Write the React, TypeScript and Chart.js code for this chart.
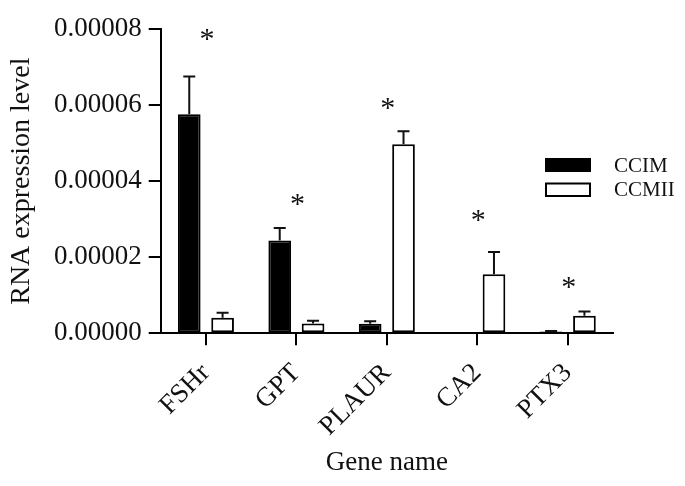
import React, { useEffect, useRef } from "react";
import { Chart, registerables } from "chart.js";

Chart.register(...registerables);

const categories = ["FSHr", "GPT", "PLAUR", "CA2", "PTX3"];
const seriesNames = ["CCIM", "CCMII"];
const ccimValues = [5.76e-5, 2.44e-5, 0.25e-5, 0.015e-5, 0.05e-5];
const ccimErrors = [0.99e-5, 0.33e-5, 0.07e-5, 0, 0.01e-5];
const ccmiiValues = [0.41e-5, 0.26e-5, 4.97e-5, 1.55e-5, 0.46e-5];
const ccmiiErrors = [0.13e-5, 0.07e-5, 0.34e-5, 0.59e-5, 0.11e-5];
const starLevels = [7.79e-5, 3.46e-5, 5.98e-5, 3.04e-5, 1.27e-5];
const yMin = 0;
const yMax = 0.00008;
const yStep = 0.00002;

const FONT = '"Liberation Serif", "Times New Roman", serif';
const INK = "#111";

const errorBarPlugin = {
  id: "errorBars",
  afterDatasetsDraw(chart: any) {
    const ctx = chart.ctx;
    const yScale = chart.scales.y;
    const errs = [ccimErrors, ccmiiErrors];
    const vals = [ccimValues, ccmiiValues];
    ctx.save();
    ctx.strokeStyle = INK;
    ctx.lineWidth = 2;
    for (let d = 0; d < 2; d++) {
      const meta = chart.getDatasetMeta(d);
      meta.data.forEach((bar: any, j: number) => {
        const e = errs[d][j];
        if (!e) return;
        const yTop = yScale.getPixelForValue(vals[d][j] + e);
        const yBar = yScale.getPixelForValue(vals[d][j]);
        ctx.beginPath();
        ctx.moveTo(bar.x, yBar);
        ctx.lineTo(bar.x, yTop);
        ctx.moveTo(bar.x - 6, yTop);
        ctx.lineTo(bar.x + 6, yTop);
        ctx.stroke();
      });
    }
    // significance stars
    const xScale = chart.scales.x;
    ctx.fillStyle = INK;
    ctx.font = `30px ${FONT}`;
    ctx.textAlign = "center";
    ctx.textBaseline = "middle";
    starLevels.forEach((v, j) => {
      const x = xScale.getPixelForValue(j);
      const y = yScale.getPixelForValue(v);
      ctx.fillText("*", x + 1, y + 3);
    });
    ctx.restore();
  },
};

const legendPlugin = {
  id: "customLegend",
  afterDraw(chart: any) {
    const ctx = chart.ctx;
    ctx.save();
    ctx.fillStyle = "#000";
    ctx.fillRect(545, 158, 46, 14);
    ctx.strokeStyle = "#000";
    ctx.lineWidth = 2;
    ctx.strokeRect(546, 183.5, 44, 12.5);
    ctx.fillStyle = INK;
    ctx.font = `21px ${FONT}`;
    ctx.textAlign = "left";
    ctx.textBaseline = "middle";
    ctx.fillText(seriesNames[0], 614, 166);
    ctx.fillText(seriesNames[1], 614, 190.5);
    ctx.restore();
  },
};

export default function App() {
  const ref = useRef<HTMLCanvasElement | null>(null);
  useEffect(() => {
    if (!ref.current) return;
    const chart = new Chart(ref.current, {
      type: "bar",
      data: {
        labels: categories,
        datasets: [
          {
            label: seriesNames[0],
            data: ccimValues,
            backgroundColor: "#000",
            borderColor: "#000",
            borderWidth: 2,
            borderSkipped: false,
            categoryPercentage: 0.737,
            barPercentage: 0.68,
          },
          {
            label: seriesNames[1],
            data: ccmiiValues,
            backgroundColor: "#fff",
            borderColor: "#000",
            borderWidth: 2,
            borderSkipped: false,
            categoryPercentage: 0.737,
            barPercentage: 0.68,
          },
        ],
      },
      options: {
        animation: false,
        responsive: true,
        maintainAspectRatio: false,
        layout: { padding: { top: 29, right: 72, left: 0, bottom: 0 } },
        plugins: { legend: { display: false }, tooltip: { enabled: false } },
        scales: {
          x: {
            offset: true,
            border: { color: "#000", width: 2 },
            grid: {
              offset: false,
              drawOnChartArea: false,
              drawTicks: true,
              tickLength: 12,
              color: "#000",
              lineWidth: 2,
            },
            ticks: {
              color: INK,
              font: { family: FONT, size: 27 },
              minRotation: 45,
              maxRotation: 45,
              padding: 12,
              autoSkip: false,
            },
            title: {
              display: true,
              text: "Gene name",
              color: INK,
              font: { family: FONT, size: 27 },
              padding: { top: 0, bottom: 7 },
            },
            afterFit: (s: any) => {
              s.height = 152.7;
            },
          },
          y: {
            min: yMin,
            max: yMax,
            border: { color: "#000", width: 2 },
            grid: {
              drawOnChartArea: false,
              drawTicks: true,
              tickLength: 12,
              color: "#000",
              lineWidth: 2,
            },
            ticks: {
              stepSize: yStep,
              color: INK,
              font: { family: FONT, size: 27 },
              padding: 7,
              callback: (v: any) => Number(v).toFixed(5),
            },
            title: {
              display: true,
              text: "RNA expression level",
              color: INK,
              font: { family: FONT, size: 28 },
              padding: { top: 5, bottom: 0 },
            },
            afterFit: (s: any) => {
              s.width = 160.7;
            },
          },
        },
      },
      plugins: [errorBarPlugin, legendPlugin],
    });
    return () => chart.destroy();
  }, []);
  return (
    <div style={{ position: "fixed", left: 0, top: 0, width: 685, height: 486, background: "#fff" }}>
      <canvas ref={ref} />
    </div>
  );
}
